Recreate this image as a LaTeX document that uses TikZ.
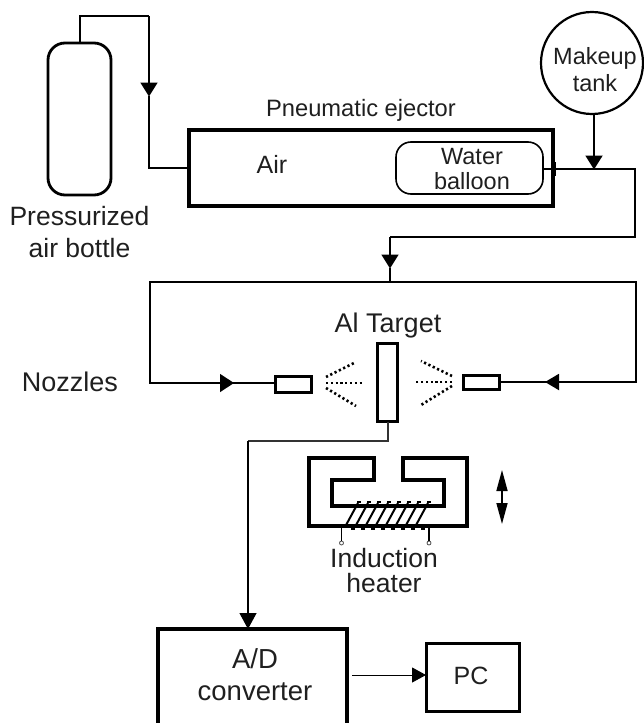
\documentclass[tikz,border=0pt]{standalone}
\usepackage{fontspec}
\setmainfont{Liberation Sans}
\usetikzlibrary{arrows.meta}
\tikzset{
  thick box/.style={draw=black,line width=3.4pt,rectangle,inner sep=0pt,outer sep=0pt,fill=none},
  pipe/.style={draw=black,line width=1.9pt},
  flow/.style={-{Triangle[length=14pt,width=17pt]},shorten >=-0.5pt},
  label/.style={inner sep=0pt,outer sep=0pt,align=center,text=black!88},
  spray/.style={line width=2.6pt,dash pattern=on 2.2pt off 2.6pt},
  coil/.style={line width=2pt,black},
  lead/.style={circle,draw=black!70,line width=.8pt,inner sep=0pt,minimum size=4pt,fill=white}
}
\newcommand{\lbl}[2]{\fontsize{#1}{#2}\selectfont}
\begin{document}
\begin{tikzpicture}[x=1pt,y=-1pt]
\useasboundingbox (0,0) rectangle (643,723);
% bottle
\node[thick box,line width=2.8pt,rounded corners=17pt,minimum width=63pt,minimum height=152pt] (bottle) at (79.5,119) {};
\node[label,font=\lbl{26.5}{32}] (bottlelbl) at (79.5,232) {Pressurized\\air bottle};
% ejector
\node[thick box,minimum width=364pt,minimum height=76pt] (ejector) at (371,168) {};
\node[label,font=\lbl{23.7}{28},anchor=base] (ejectorlbl) at (361,116) {Pneumatic ejector};
\node[label,font=\lbl{25}{28},anchor=base] (air) at (272,173) {Air};
\node[draw=black,line width=1.6pt,rectangle,rounded corners=15pt,inner sep=0pt,outer sep=0pt,minimum width=147pt,minimum height=52pt] (balloon) at (469.5,168) {};
\node[label,font=\lbl{23.5}{25}] (balloonlbl) at (472,169) {Water\\balloon};
% tank
\node[circle,draw=black,line width=2.2pt,inner sep=0pt,outer sep=0pt,minimum size=102pt] (tank) at (592,63) {};
\node[label,font=\lbl{23.5}{27}] (tanklbl) at (595,69.5) {Makeup\\tank};
% pipes top
\coordinate (b1) at (80,16);
\coordinate (b2) at (149,16);
\coordinate (b3) at (149,96);
\coordinate (b4) at (149,168);
\draw[pipe] (bottle.north -| b1) -- (b1) -- (b2);
\draw[pipe,flow] (b2) -- (b3);
\draw[pipe] (b3) -- (b4) -- (ejector.west |- b4);
\coordinate (j1) at (594,169);
\draw[pipe,flow] (tank.south -| j1) -- (j1);
\fill (550.5,162) rectangle (556,176);
\coordinate (r1) at (635,169);
\coordinate (r2) at (635,237);
\coordinate (r3) at (390,237);
\coordinate (r4) at (390,268);
\coordinate (r5) at (390,282);
\draw[pipe] (balloon.east |- j1) -- (r1) -- (r2) -- (r3);
\draw[pipe,flow] (r3) -- (r4);
\draw[pipe] (r4) -- (r5);
% lower loop
\node[thick box,line width=3.6pt,minimum width=36pt,minimum height=16pt] (nozL) at (293.5,384.5) {};
\node[thick box,line width=3.6pt,minimum width=36pt,minimum height=14pt] (nozR) at (481.5,382.5) {};
\node[thick box,line width=3.6pt,minimum width=20pt,minimum height=78pt] (target) at (387.5,382.5) {};
\node[label,font=\lbl{27}{30},anchor=base] (targetlbl) at (388,332) {Al Target};
\node[label,font=\lbl{27}{30},anchor=base] (nozzleslbl) at (70,391) {Nozzles};
\coordinate (l1) at (150,282);
\coordinate (l2) at (150,383);
\coordinate (l3) at (234,383);
\coordinate (r6) at (636,282);
\coordinate (r7) at (636,382);
\coordinate (r8) at (545,382);
\draw[pipe] (l3) -- (l2) -- (l1) -- (r6) -- (r7) -- (r8);
\draw[pipe,line width=1.3pt,-{Triangle[length=14pt,width=18pt]}] (200,383) -- (l3);
\draw[pipe,line width=1.3pt] (l3) -- (nozL.west |- l3);
\draw[pipe,-{Triangle[length=14pt,width=16pt]}] (570,382) -- (r8);
\draw[pipe] (r8) -- (nozR.east |- r8);
% sprays
\draw[spray] (326,377) -- (356,362);
\draw[spray] (326,383) -- (362,383);
\draw[spray] (326,388) -- (356,406);
\draw[spray] (452,376) -- (421,361);
\draw[spray] (452,382) -- (416,382);
\draw[spray] (452,386) -- (421,405);
% signal line
\coordinate (s1) at (388,441);
\coordinate (s2) at (248,441);
\coordinate (s3) at (248,629);
% heater
\path[draw=black,line width=3.2pt,line join=miter]
  (374,458) -- (309,458) -- (309,526) -- (467,526) -- (467,458) -- (403,458) -- (403,480) -- (444,480) -- (444,506) -- (332,506) -- (332,480) -- (374,480) -- cycle;
\foreach \i in {0,...,7} {
  \draw[coil] (345+10*\i,527) -- (358+10*\i,503);
  \fill (357+10*\i,500.5) rectangle (361+10*\i,503);
  \fill (351+10*\i,528) rectangle (355+10*\i,530);
}
\node[lead] (lead1) at (341.5,543) {};
\node[lead] (lead2) at (429,543) {};
\draw[line width=1.4pt] (341.5,527) -- (lead1);
\draw[line width=1.4pt] (429,527) -- (lead2);
\node[label,font=\lbl{26.5}{25}] (heaterlbl) at (384,570.5) {Induction\\heater};
% double arrow
\coordinate (dU) at (502,470);
\coordinate (dD) at (502,524);
\coordinate (dM) at (502,497);
\draw[line width=1.6pt,-{Triangle[length=21pt,width=11pt]}] (dM) -- (dU);
\draw[line width=1.6pt,-{Triangle[length=21pt,width=11pt]}] (dM) -- (dD);
% A/D and PC
\node[thick box,minimum width=189pt,minimum height=110pt] (ad) at (252.5,684) {};
\node[label,font=\lbl{27.5}{32}] (adlbl) at (255,675) {A/D\\converter};
\node[thick box,line width=3pt,minimum width=93pt,minimum height=68pt] (pc) at (472.5,677) {};
\node[label,font=\lbl{25}{30},anchor=base] (pclbl) at (471,684) {PC};
\coordinate (adout) at (352,675);
\draw[line width=1pt,-{Triangle[length=14pt,width=15pt]}] (adout) -- (pc.west |- adout);
\draw[line width=1.1pt,black!80] (target.south -| s1) -- (s1) -- (s2);
\draw[line width=1.2pt,-{Triangle[length=16pt,width=17pt]}] (s2) -- (s3);
\end{tikzpicture}
\end{document}
